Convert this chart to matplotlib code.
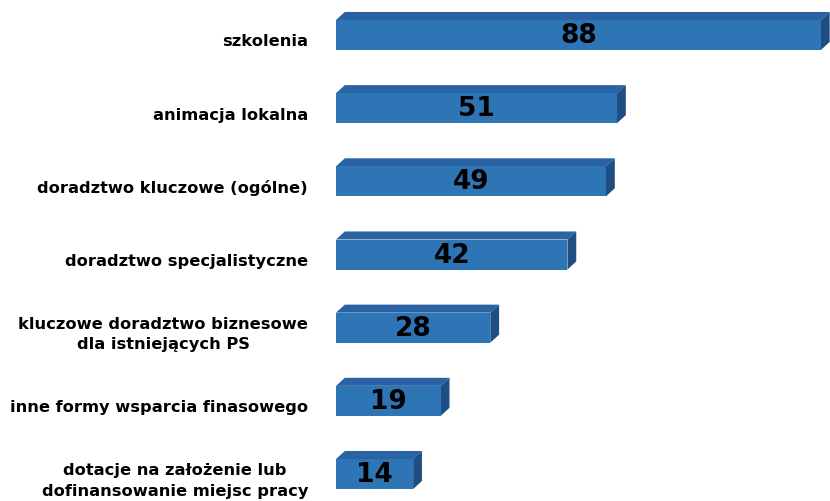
import matplotlib.pyplot as plt
from matplotlib.patches import Polygon
from matplotlib.transforms import offset_copy

# --- DATA ---
categories = [
    'szkolenia',
    'animacja lokalna',
    'doradztwo kluczowe (ogólne)',
    'doradztwo specjalistyczne',
    'kluczowe doradztwo biznesowe\ndla istniejących PS',
    'inne formy wsparcia finasowego',
    'dotacje na założenie lub\ndofinansowanie miejsc pracy',
]
values = [88, 51, 49, 42, 28, 19, 14]

# --- STYLE ---
c_front = '#2E75B6'
c_top = '#2A63A3'
c_side = '#1F4E82'
bar_h = 0.41
depth_x = 1.6     # 3D depth in value units
depth_y = 0.11    # 3D depth in category units

fig = plt.figure(figsize=(8.3, 5.02), dpi=100)
ax = fig.add_axes([336 / 830, 0, 1 - 336 / 830, 1])

pos = list(range(len(categories)))
bars = ax.barh(pos, values, height=bar_h, color=c_front, edgecolor='none', zorder=3)

for b, v in zip(bars, values):
    x0, y0 = b.get_x(), b.get_y()
    w, h = b.get_width(), b.get_height()
    # y axis inverted: y0 is the upper edge visually
    top = Polygon([(x0, y0), (x0 + depth_x, y0 - depth_y),
                   (x0 + w + depth_x, y0 - depth_y), (x0 + w, y0)],
                  closed=True, facecolor=c_top, edgecolor='none', zorder=2)
    side = Polygon([(x0 + w, y0), (x0 + w + depth_x, y0 - depth_y),
                    (x0 + w + depth_x, y0 + h - depth_y), (x0 + w, y0 + h)],
                   closed=True, facecolor=c_side, edgecolor='none', zorder=2)
    ax.add_patch(top)
    ax.add_patch(side)
    ax.text(x0 + w / 2, y0 + h / 2, str(v), ha='center', va='center',
            fontsize=19, fontweight='bold', color='black', zorder=4)

# category labels
lab_tr = offset_copy(ax.transData, fig=fig, x=-28, y=-6, units='dots')
for p, c in zip(pos, categories):
    ax.text(0, p, c, transform=lab_tr, ha='right', va='center',
            multialignment='center', fontsize=11.7, fontweight='bold',
            color='black', linespacing=1.45)

ax.set_xlim(0, (830 - 336) / 5.51)
ax.set_ylim((502 - 36) / 73.17, -36 / 73.17)
ax.axis('off')

plt.savefig('out.png', dpi=100, facecolor='white')
plt.close()
